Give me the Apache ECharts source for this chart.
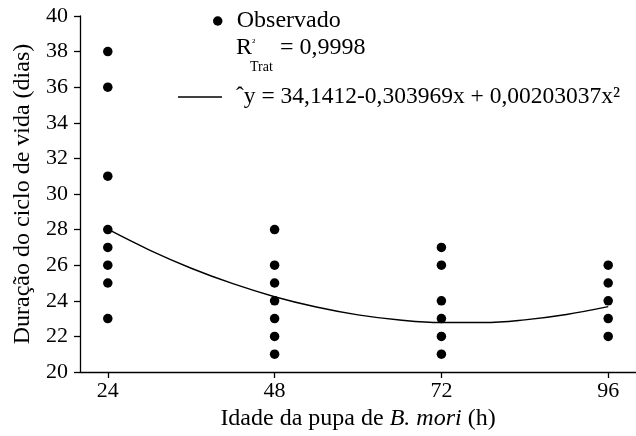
<!DOCTYPE html>
<html>
<head>
<meta charset="utf-8">
<script src="https://cdn.jsdelivr.net/npm/echarts@6/dist/echarts.min.js"></script>
<style>html,body{margin:0;padding:0;background:#fff}#c{width:636px;height:436px}</style>
</head>
<body>
<div id="c"></div>
<script>
// Observed values (dias) per pupa age (h)
var ages = [24, 48, 72, 96];
var obs24 = [38, 36, 31, 28, 27, 26, 25, 23];
var obs48 = [28, 26, 25, 24, 23, 22, 21];
var obs72 = [27, 26, 24, 23, 22, 21];
var obs96 = [26, 25, 24, 23, 22];
// Fitted curve
var curveX = [24, 30, 36, 42, 48, 54, 60, 66, 72, 78, 84, 90, 96];
var curveY = [28.02, 26.85, 25.83, 24.96, 24.23, 23.65, 23.21, 22.92, 22.78, 22.78, 22.93, 23.23, 23.67];
var xTicks = [24, 48, 72, 96];
var seriesNames = ['Observado', '\u02C6y = 34,1412-0,303969x + 0,00203037x\u00B2'];

var groups = [obs24, obs48, obs72, obs96];
var scatterData = [];
groups.forEach(function (g, i) { g.forEach(function (v) { scatterData.push([ages[i], v]); }); });
var lineData = curveX.map(function (x, i) { return [x, curveY[i]]; });

var FONT = 'Liberation Serif';
var chart = echarts.init(document.getElementById('c'), null, { renderer: 'canvas' });
chart.setOption({
  animation: false,
  backgroundColor: '#fff',
  textStyle: { fontFamily: FONT, color: '#000' },
  grid: { left: 80, right: -11, top: 16, bottom: 62, containLabel: false },
  xAxis: {
    type: 'value', min: 20, max: 100,
    name: 'Idade da pupa de {i|B. mori} (h)',
    nameLocation: 'middle', nameGap: 35,
    nameTextStyle: { fontFamily: FONT, fontSize: 24, color: '#000',
      rich: { i: { fontFamily: FONT, fontSize: 24, fontStyle: 'italic', color: '#000' } } },
    axisLine: { show: true, onZero: false, lineStyle: { color: '#000', width: 1.3 } },
    axisTick: { show: true, customValues: xTicks, length: 6, lineStyle: { color: '#000', width: 1.3 } },
    axisLabel: { customValues: xTicks, margin: 8, fontFamily: FONT, fontSize: 22, color: '#000' },
    splitLine: { show: false }
  },
  yAxis: {
    type: 'value', min: 20, max: 40, interval: 2,
    name: 'Duração do ciclo de vida (dias)',
    nameLocation: 'middle', nameGap: 40,
    nameTextStyle: { fontFamily: FONT, fontSize: 24, color: '#000' },
    axisLine: { show: true, onZero: false, lineStyle: { color: '#000', width: 1.3 } },
    axisTick: { show: true, length: 6, lineStyle: { color: '#000', width: 1.3 } },
    axisLabel: { margin: 12, fontFamily: FONT, fontSize: 22, color: '#000' },
    splitLine: { show: false }
  },
  legend: [{
    data: [{ name: seriesNames[0], icon: 'circle' }],
    left: 213, top: 9, orient: 'vertical',
    itemWidth: 28, itemHeight: 9.5, padding: 0,
    itemStyle: { color: '#000', opacity: 1 },
    textStyle: { fontFamily: FONT, fontSize: 24, color: '#000' }
  }, {
    data: [{ name: seriesNames[1], icon: 'rect' }],
    left: 178, top: 85, orient: 'vertical',
    itemWidth: 44, itemHeight: 1.3, padding: 0,
    itemStyle: { color: '#000' },
    textStyle: { fontFamily: FONT, fontSize: 23.5, color: '#000', padding: [0, 0, 0, 9] }
  }],
  graphic: [
    { type: 'text', left: 236, top: 36, style: { text: 'R', font: '24px "Liberation Serif"', fill: '#000' } },
    { type: 'text', left: 252, top: 38, style: { text: '\u00B2', font: '11px "Liberation Serif"', fill: '#000' } },
    { type: 'text', left: 250, top: 60, style: { text: 'Trat', font: '14px "Liberation Serif"', fill: '#000' } },
    { type: 'text', left: 280, top: 36, style: { text: '= 0,9998', font: '24px "Liberation Serif"', fill: '#000' } }
  ],
  series: [{
    name: seriesNames[0], type: 'scatter', data: scatterData,
    symbol: 'circle', symbolSize: 9.5,
    itemStyle: { color: '#000', opacity: 1 }, z: 3
  }, {
    name: seriesNames[1], type: 'line', data: lineData,
    smooth: 0.4, symbol: 'none', showSymbol: false,
    lineStyle: { color: '#000', width: 1.4 }, itemStyle: { color: '#000' }, z: 2
  }]
});
</script>
</body>
</html>
